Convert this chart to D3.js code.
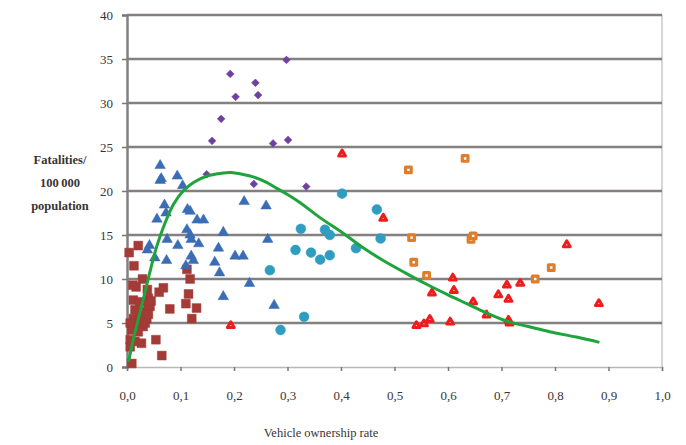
<!DOCTYPE html>
<html>
<head>
<meta charset="utf-8">
<script src="https://cdn.jsdelivr.net/npm/d3@7/dist/d3.min.js"></script>
<style>
  html, body { margin: 0; padding: 0; background: #fff; }
  svg { display: block; }
  text { font-family: "Liberation Serif", "DejaVu Serif", serif; }
</style>
</head>
<body>
<svg id="chart" width="686" height="445"></svg>
<script>
// ---- data ----
const xTicks = [0, 0.1, 0.2, 0.3, 0.4, 0.5, 0.6, 0.7, 0.8, 0.9, 1.0];
const xTickLabels = ["0,0","0,1","0,2","0,3","0,4","0,5","0,6","0,7","0,8","0,9","1,0"];
const yTicks = [0, 5, 10, 15, 20, 25, 30, 35, 40];

const purpleDiamonds = [[0.149,21.9],[0.159,25.7],[0.176,28.2],[0.193,33.3],[0.203,30.7],[0.240,32.3],[0.245,30.9],[0.237,20.8],[0.273,25.4],[0.298,34.9],[0.301,25.8],[0.335,20.5]];

const blueTriangles = [[0.062,22.9],[0.062,21.2],[0.064,21.4],[0.094,21.7],[0.104,20.6],[0.070,18.4],[0.073,17.5],[0.056,16.8],[0.113,17.9],[0.118,17.7],[0.131,16.7],[0.143,16.7],[0.219,18.8],[0.260,18.3],[0.112,15.6],[0.118,15.0],[0.120,14.5],[0.134,14.0],[0.180,15.3],[0.263,14.5],[0.075,14.5],[0.042,13.8],[0.038,13.3],[0.095,13.8],[0.171,13.5],[0.052,12.4],[0.074,12.1],[0.120,12.6],[0.124,12.1],[0.110,11.5],[0.164,11.9],[0.202,12.6],[0.217,12.6],[0.173,10.7],[0.229,9.5],[0.180,8.0],[0.275,7.0]];

const tealCircles = [[0.402,19.7],[0.467,17.9],[0.325,15.7],[0.370,15.6],[0.379,15.0],[0.474,14.6],[0.428,13.5],[0.315,13.3],[0.344,13.0],[0.361,12.2],[0.379,12.7],[0.267,11.0],[0.331,5.7],[0.287,4.2]];

const redOpenTriangles = [[0.402,24.2],[0.479,16.9],[0.194,4.7],[0.570,8.4],[0.609,10.1],[0.611,8.7],[0.541,4.7],[0.555,4.9],[0.566,5.4],[0.604,5.1],[0.647,7.4],[0.672,5.9],[0.694,8.2],[0.710,9.3],[0.713,7.7],[0.715,5.0],[0.713,5.3],[0.735,9.5],[0.822,13.9],[0.882,7.2]];

const orangeOpenSquares = [[0.526,22.4],[0.632,23.7],[0.532,14.7],[0.643,14.5],[0.647,14.9],[0.536,11.9],[0.560,10.4],[0.763,10.0],[0.793,11.3]];

const darkRedSquares = [[0.021,13.8],[0.004,13.0],[0.013,11.5],[0.011,9.3],[0.017,9.1],[0.029,10.0],[0.038,8.8],[0.060,8.5],[0.068,9.0],[0.112,11.1],[0.118,10.0],[0.115,8.3],[0.110,7.2],[0.130,6.7],[0.121,5.5],[0.080,6.6],[0.054,3.1],[0.065,1.3],[0.009,0.4],[0.012,7.6],[0.024,7.4],[0.040,7.8],[0.043,6.9],[0.015,6.5],[0.030,6.3],[0.012,5.5],[0.024,5.5],[0.037,5.5],[0.018,4.8],[0.030,4.6],[0.009,4.2],[0.021,4.0],[0.006,3.1],[0.015,2.9],[0.027,2.7],[0.006,2.3],[0.040,7.1],[0.034,5.0],[0.006,5.0],[0.040,6.0],[0.045,7.5]];

const fitCurve = [[0.003,0.6],[0.012,3.2],[0.024,6.1],[0.038,9.6],[0.055,13.6],[0.070,16.2],[0.087,18.5],[0.105,20.0],[0.125,21.0],[0.150,21.7],[0.175,22.0],[0.195,22.1],[0.215,21.9],[0.236,21.6],[0.260,21.0],[0.280,20.3],[0.300,19.6],[0.323,18.7],[0.360,17.0],[0.404,15.2],[0.440,13.6],[0.479,12.1],[0.520,10.7],[0.560,9.4],[0.600,8.2],[0.635,7.2],[0.670,6.2],[0.710,5.2],[0.750,4.6],[0.790,4.0],[0.840,3.4],[0.883,2.8]];

// ---- drawing ----
const svg = d3.select("#chart");
const x = d3.scaleLinear().domain([0, 1]).range([127, 662]);
const y = d3.scaleLinear().domain([0, 40]).range([367, 15]);

// plot frame (right border)
svg.append("line").attr("x1", x(1)).attr("x2", x(1)).attr("y1", y(40)).attr("y2", y(0))
  .attr("stroke", "#c8c8c8").attr("stroke-width", 1.5);

// horizontal gridlines
svg.append("g").selectAll("line").data(yTicks.filter(d => d > 0)).join("line")
  .attr("x1", x(0)).attr("x2", x(1)).attr("y1", d => y(d)).attr("y2", d => y(d))
  .attr("stroke", "#858080").attr("stroke-width", 2.4);

// x axis
const xAxis = d3.axisBottom(x).tickValues(xTicks).tickFormat((d, i) => xTickLabels[i])
  .tickSize(4).tickPadding(20);
const gx = svg.append("g").attr("transform", `translate(0,${y(0)})`).call(xAxis);
gx.select(".domain").attr("stroke", "#b8b8b8").attr("stroke-width", 1.5);
gx.selectAll(".tick line").attr("stroke", "#777").attr("stroke-width", 1.5);
gx.selectAll("text").attr("font-size", 13).attr("fill", "#3b3434");

// y axis
const yAxis = d3.axisLeft(y).tickValues(yTicks).tickSize(5).tickPadding(9);
const gy = svg.append("g").attr("transform", `translate(${x(0)},0)`).call(yAxis);
gy.select(".domain").attr("stroke", "#858080").attr("stroke-width", 2.5);
gy.selectAll(".tick line").attr("stroke", "#777").attr("stroke-width", 1.5);
gy.selectAll("text").attr("font-size", 13).attr("fill", "#3b3434");

// markers
const g = svg.append("g");
function plot(data, type, size, fill, stroke, sw, rot) {
  g.append("g").selectAll("path").data(data).join("path")
    .attr("d", d3.symbol().type(type).size(size))
    .attr("transform", d => `translate(${x(d[0])},${y(d[1])})` + (rot ? ` rotate(${rot})` : ""))
    .attr("fill", fill).attr("stroke", stroke).attr("stroke-width", sw)
    .attr("stroke-linejoin", "round");
}
plot(darkRedSquares, d3.symbolSquare, 78, "#a33b37", "#a33b37", 0.5, 0);
plot(blueTriangles, d3.symbolTriangle, 48, "#3a6db3", "#3a6db3", 0.5, 0);
plot(purpleDiamonds, d3.symbolSquare, 30, "#6f40a0", "#6f40a0", 0.5, 45);
plot(tealCircles, d3.symbolCircle, 76, "#2f9dc0", "#2f9dc0", 0.5, 0);
plot(orangeOpenSquares, d3.symbolSquare, 32, "#fff", "#e07d2c", 3.2, 0);
plot(redOpenTriangles, d3.symbolTriangle, 20, "#fff", "#ee1c1c", 3.0, 0);

// fitted curve
svg.append("path").datum(fitCurve)
  .attr("d", d3.line().x(d => x(d[0])).y(d => y(d[1])).curve(d3.curveCatmullRom))
  .attr("fill", "none").attr("stroke", "#1fa33c").attr("stroke-width", 3);

// axis titles
const yt = svg.append("text").attr("text-anchor", "middle").attr("font-size", 12.5)
  .attr("font-weight", "bold").attr("fill", "#3b3434");
["Fatalities/", "100\u2009000", "population"].forEach((t, i) => {
  yt.append("tspan").attr("x", 60).attr("y", 164 + i * 23).text(t);
});
svg.append("text").attr("x", 321).attr("y", 437).attr("text-anchor", "middle")
  .attr("font-size", 12.5).attr("fill", "#3b3434").text("Vehicle ownership rate");
</script>
</body>
</html>
